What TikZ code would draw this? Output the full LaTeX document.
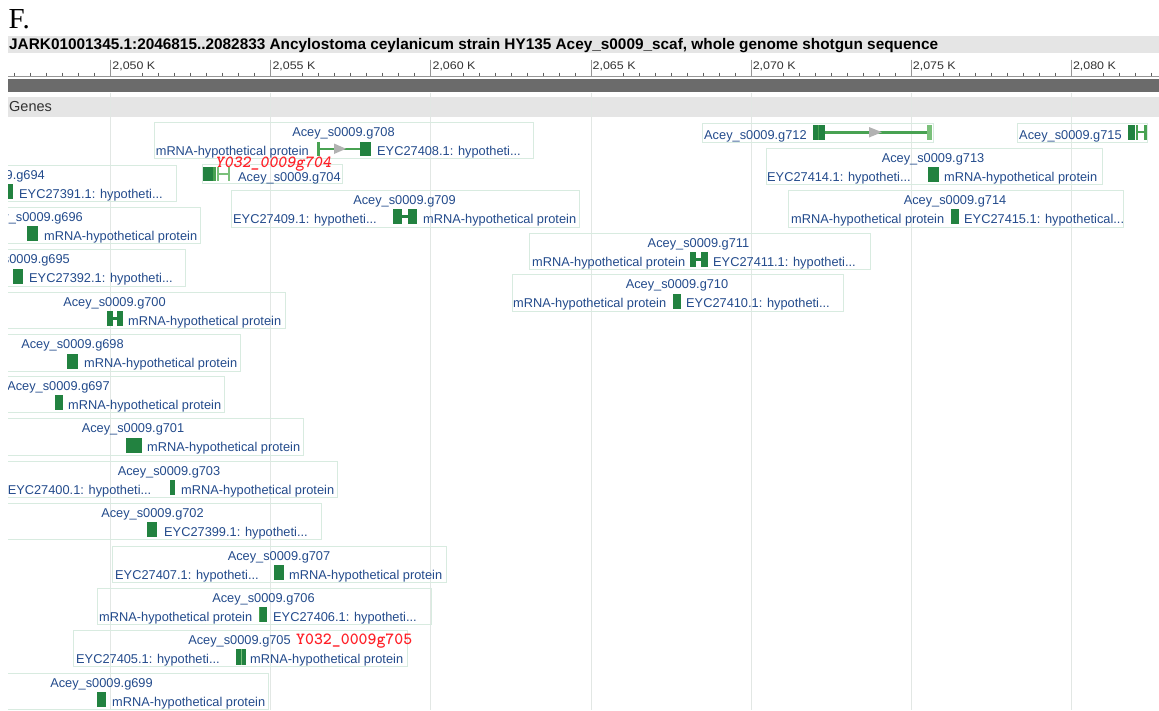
\documentclass[tikz,border=0pt]{standalone}
\usepackage{fontspec}
\usepackage{graphicx}
\newfontfamily\lsans{Liberation Sans}
\newfontfamily\lserif{Liberation Serif}
\definecolor{lblc}{RGB}{35,75,140}
\definecolor{boxc}{RGB}{216,235,224}
\definecolor{gridc}{RGB}{226,231,228}
\definecolor{exonc}{RGB}{34,130,64}
\definecolor{medc}{RGB}{72,162,82}
\definecolor{lightc}{RGB}{122,192,122}
\definecolor{arrowc}{RGB}{178,178,178}
\definecolor{barc}{RGB}{107,107,107}
\definecolor{hdrc}{RGB}{229,229,229}
\definecolor{redc}{RGB}{255,32,40}
\definecolor{rulec}{RGB}{150,150,150}
\definecolor{tickc}{RGB}{95,95,95}
\definecolor{txtc}{RGB}{50,50,50}
\newcommand\glf{\lsans\fontsize{12.8}{14}\selectfont}
\begin{document}
\begin{tikzpicture}[x=1pt,y=-1pt,
  lbl/.style={font=\glf,text=lblc,inner sep=0pt,anchor=base west},
  nm/.style={lbl,anchor=base},
  nmr/.style={lbl,anchor=base east},
  gbox/.style={draw=boxc,line width=0.9pt},
  exon/.style={fill=exonc},
  medbar/.style={fill=medc},
  ltbar/.style={fill=lightc},
  intron/.style={draw=medc,line width=2.5pt},
  strandarrow/.style={fill=arrowc},
  gridline/.style={draw=gridc,line width=0.9pt},
  majortick/.style={draw=rulec,line width=0.9pt},
  minortick/.style={draw=tickc,line width=0.8pt},
  ticklbl/.style={font=\lsans\fontsize{11}{12}\selectfont,text=txtc,inner sep=0pt,anchor=base west},
  redup/.style={font=\ttfamily\bfseries\fontsize{17}{18}\selectfont,text=redc,inner sep=0pt,anchor=base west},
  redit/.style={font=\ttfamily\bfseries\itshape\fontsize{17}{18}\selectfont,text=redc,inner sep=0pt,anchor=base west}]
\useasboundingbox (0,0) rectangle (1159,710);
\fill[white] (0,0) rectangle (1159,710);
% panel letter
\node[font=\lserif\fontsize{29}{30}\selectfont,inner sep=0pt,anchor=base west] (panel) at (8.5,28.5) {F.};
% title bar
\fill[hdrc] (8,36) rectangle (1159,53);
\node[inner sep=0pt,anchor=base west] (title) at (9,49.5) {\resizebox{929pt}{!}{\lsans\bfseries\fontsize{15.4}{17}\selectfont JARK01001345.1:2046815..2082833 Ancylostoma ceylanicum strain HY135 Acey\_s0009\_scaf, whole genome shotgun sequence}};
% ruler
\draw[rulec,line width=0.9pt] (8,76) -- (1159,76);
\foreach \k in {-6,...,65} {
  \pgfmathtruncatemacro\m{mod(\k+60,10)}
  \ifnum\m>1
    \draw[minortick] ({110.7+16.01*\k},72.5) -- ({110.7+16.01*\k},76);
  \fi
}
\foreach \v [count=\i from 0] in {050,055,060,065,070,075,080} {
  \draw[majortick] ({110.7+160.1*\i},59.5) -- ({110.7+160.1*\i},76);
  \node[ticklbl] (tl\i) at ({112.2+160.1*\i},69.5) {\scalebox{1.13}[1]{2,\v\ K}};
}
% overview bar
\fill[barc] (8,79) rectangle (1159,92);
% genes track header
\fill[hdrc] (8,97) rectangle (1159,116.5);
\foreach \i in {0,...,6}
  \draw[gridline] ({110.7+160.1*\i},92.5) -- ({110.7+160.1*\i},710);
\node[font=\lsans\fontsize{14.5}{16}\selectfont,text=txtc,inner sep=0pt,anchor=base west] (genes) at (9,111.5) {Genes};
\begin{scope}
\clip (8,117) rectangle (1159,710);
% g708
\draw[gbox] (154,122.5) rectangle (533,158);
\node[nm] (n708) at (343.5,136.5) {Acey\_s0009.g708};
\node[nmr] (a708) at (309,155.5) {mRNA-hypothetical protein};
\fill[medbar] (317,141.5) rectangle (319.5,156);
\draw[intron] (319.5,148.75) -- (360,148.75);
\fill[strandarrow] (334,143.5) -- (346,148.75) -- (334,154) -- cycle;
\fill[exon] (360,141.5) rectangle (371,156);
\node[lbl] (b708) at (377,155.5) {EYC27408.1: hypotheti...};
% g704
\draw[gbox] (202,164) rectangle (342,183.5);
\fill[exon] (203,167) rectangle (212.5,181);
\fill[medbar] (212.5,167) rectangle (215.5,181);
\fill[ltbar] (217,167) rectangle (219,181);
\draw[draw=lightc,line width=2pt] (219,174) -- (228,174);
\fill[ltbar] (228,167) rectangle (230,181);
\node[lbl] (n704) at (238,181.5) {Acey\_s0009.g704};
\node[redit] (r704) at (215,167) {Y032\_0009g704};
% g694
\draw[gbox] (-60,165) rectangle (176,201);
\node[nmr] (n694) at (45,179) {Acey\_s0009.g694};
\fill[exon] (8,184) rectangle (13,199);
\node[lbl] (b694) at (19,198) {EYC27391.1: hypotheti...};
% g709
\draw[gbox] (231,190) rectangle (579,227);
\node[nm] (n709) at (404.5,204) {Acey\_s0009.g709};
\node[lbl] (a709) at (233,223) {EYC27409.1: hypotheti...};
\fill[exon] (393,209) rectangle (402,224);
\fill[exon] (408,209) rectangle (417,224);
\fill[exon] (402,215.3) rectangle (408,217.8);
\node[lbl] (b709) at (423,223) {mRNA-hypothetical protein};
% g696
\draw[gbox] (-60,207) rectangle (200,243.5);
\node[nmr] (n696) at (83,221) {Acey\_s0009.g696};
\fill[exon] (27,226) rectangle (38,241);
\node[lbl] (b696) at (44,240) {mRNA-hypothetical protein};
% g711
\draw[gbox] (529,233) rectangle (870,269);
\node[nm] (n711) at (698.5,247) {Acey\_s0009.g711};
\node[lbl] (a711) at (532,266) {mRNA-hypothetical protein};
\fill[exon] (690,252) rectangle (695.5,266.5);
\fill[exon] (700.5,252) rectangle (708,266.5);
\fill[exon] (695.5,258) rectangle (700.5,260.5);
\node[lbl] (b711) at (713,266) {EYC27411.1: hypotheti...};
% g695
\draw[gbox] (-60,249.5) rectangle (185,286);
\node[nmr] (n695) at (70,263.5) {Acey\_s0009.g695};
\fill[exon] (13,268.5) rectangle (22.5,283.5);
\node[lbl] (b695) at (29,282.5) {EYC27392.1: hypotheti...};
% g710
\draw[gbox] (512,274.5) rectangle (843,311);
\node[nm] (n710) at (677,288.5) {Acey\_s0009.g710};
\node[lbl] (a710) at (513,307.5) {mRNA-hypothetical protein};
\fill[exon] (673,293.5) rectangle (681,308.5);
\node[lbl] (b710) at (686,307.5) {EYC27410.1: hypotheti...};
% g700
\draw[gbox] (-60,292) rectangle (285,328);
\node[nm] (n700) at (114.5,306) {Acey\_s0009.g700};
\fill[exon] (107,311) rectangle (113,326);
\fill[exon] (117,311) rectangle (123,326);
\fill[exon] (113,317.3) rectangle (117,319.8);
\node[lbl] (b700) at (128,325) {mRNA-hypothetical protein};
% g698
\draw[gbox] (-60,334.5) rectangle (240,371);
\node[nm] (n698) at (72.5,348.5) {Acey\_s0009.g698};
\fill[exon] (67,353.5) rectangle (78,368.5);
\node[lbl] (b698) at (84,367.5) {mRNA-hypothetical protein};
% g697
\draw[gbox] (-60,376) rectangle (224,412);
\node[nm] (n697) at (58.5,390) {Acey\_s0009.g697};
\fill[exon] (55,395) rectangle (62.5,410);
\node[lbl] (b697) at (68,409) {mRNA-hypothetical protein};
% g701
\draw[gbox] (-60,418.5) rectangle (303,455);
\node[nm] (n701) at (133,432.5) {Acey\_s0009.g701};
\fill[exon] (126,437.5) rectangle (142,452.5);
\node[lbl] (b701) at (147,451.5) {mRNA-hypothetical protein};
% g703
\draw[gbox] (-60,461) rectangle (337,497);
\node[nm] (n703) at (169,475) {Acey\_s0009.g703};
\node[nmr] (a703) at (151.5,494) {EYC27400.1: hypotheti...};
\fill[exon] (170,480) rectangle (175,495);
\node[lbl] (b703) at (181,494) {mRNA-hypothetical protein};
% g702
\draw[gbox] (-60,503) rectangle (321,539.5);
\node[nm] (n702) at (152.5,517) {Acey\_s0009.g702};
\fill[exon] (147,522) rectangle (157,537);
\node[lbl] (b702) at (164,536) {EYC27399.1: hypotheti...};
% g707
\draw[gbox] (112,546) rectangle (446,582);
\node[nm] (n707) at (279,560) {Acey\_s0009.g707};
\node[lbl] (a707) at (115,579) {EYC27407.1: hypotheti...};
\fill[exon] (274,565) rectangle (284,580);
\node[lbl] (b707) at (289,579) {mRNA-hypothetical protein};
% g706
\draw[gbox] (97,588) rectangle (431,624);
\node[nm] (n706) at (263.5,602) {Acey\_s0009.g706};
\node[lbl] (a706) at (99,621) {mRNA-hypothetical protein};
\fill[exon] (259,607) rectangle (267,622);
\fill[medbar] (259,607) rectangle (260.2,622);
\node[lbl] (b706) at (273,621) {EYC27406.1: hypotheti...};
% g705
\draw[gbox] (73,630) rectangle (407,666);
\node[nm] (n705) at (239.5,644) {Acey\_s0009.g705};
\node[redup] (r705) at (296,644) {Y032\_0009g705};
\node[lbl] (a705) at (76,663) {EYC27405.1: hypotheti...};
\fill[exon] (236,649) rectangle (246,665);
\fill[lightc] (240.8,649) rectangle (242,665);
\node[lbl] (b705) at (250,663) {mRNA-hypothetical protein};
% g699
\draw[gbox] (-60,673) rectangle (268,709);
\node[nm] (n699) at (101.5,687) {Acey\_s0009.g699};
\fill[exon] (97,692) rectangle (106,707);
\node[lbl] (b699) at (112,706) {mRNA-hypothetical protein};
% g712
\draw[gbox] (702,123) rectangle (933,142.5);
\node[lbl] (n712) at (704,139) {Acey\_s0009.g712};
\fill[exon] (813,125) rectangle (825,139.5);
\fill[medc] (818,125) rectangle (819.2,139.5);
\draw[intron] (825,132.25) -- (927,132.25);
\fill[strandarrow] (869,127) -- (882,132.25) -- (869,137.5) -- cycle;
\fill[ltbar] (926.5,125) rectangle (932,139.5);
% g715
\draw[gbox] (1017,123) rectangle (1147.5,142.5);
\node[lbl] (n715) at (1019,139) {Acey\_s0009.g715};
\fill[exon] (1128,125) rectangle (1134.5,139.5);
\fill[medbar] (1135.5,125) rectangle (1137.8,139.5);
\draw[draw=medc,line width=2.2pt] (1137.8,132.25) -- (1144,132.25);
\fill[medbar] (1144,125) rectangle (1147,139.5);
% g713
\draw[gbox] (766,148) rectangle (1102,184);
\node[nm] (n713) at (933,162) {Acey\_s0009.g713};
\node[lbl] (a713) at (767,181) {EYC27414.1: hypotheti...};
\fill[exon] (928,167) rectangle (939,182);
\node[lbl] (b713) at (944,181) {mRNA-hypothetical protein};
% g714
\draw[gbox] (788,190) rectangle (1123,227);
\node[nm] (n714) at (955,204) {Acey\_s0009.g714};
\node[lbl] (a714) at (791,223) {mRNA-hypothetical protein};
\fill[exon] (951,209) rectangle (958.5,224);
\node[lbl] (b714) at (964,223) {EYC27415.1: hypothetical...};
\end{scope}
\end{tikzpicture}
\end{document}
